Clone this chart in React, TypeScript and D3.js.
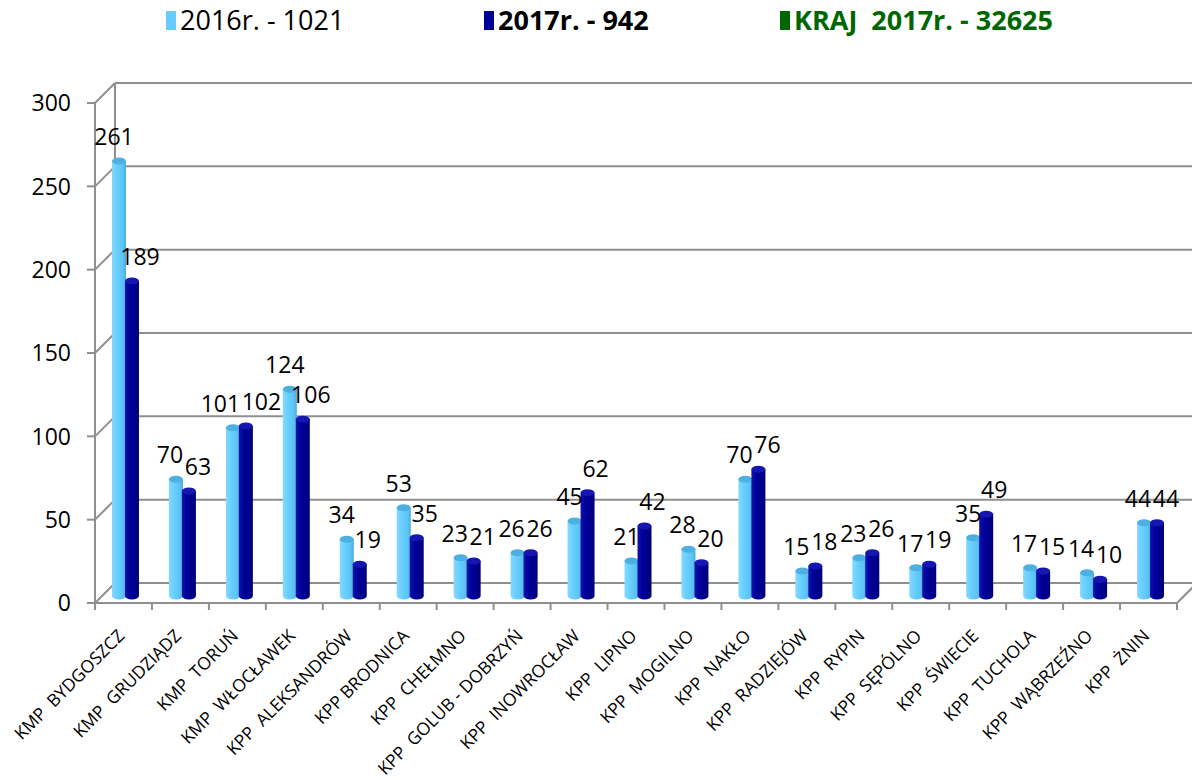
import React from "react";
import * as d3 from "d3";

const categories = [
  "KMP  BYDGOSZCZ", "KMP  GRUDZIĄDZ", "KMP  TORUŃ", "KMP  WŁOCŁAWEK", "KPP  ALEKSANDRÓW",
  "KPP BRODNICA", "KPP  CHEŁMNO", "KPP  GOLUB - DOBRZYŃ", "KPP  INOWROCŁAW", "KPP  LIPNO",
  "KPP  MOGILNO", "KPP  NAKŁO", "KPP  RADZIEJÓW", "KPP  RYPIN", "KPP  SĘPÓLNO",
  "KPP  ŚWIECIE", "KPP  TUCHOLA", "KPP  WĄBRZEŹNO", "KPP  ŻNIN",
];
const values2016 = [261, 70, 101, 124, 34, 53, 23, 26, 45, 21, 28, 70, 15, 23, 17, 35, 17, 14, 44];
const values2017 = [189, 63, 102, 106, 19, 35, 21, 26, 62, 42, 20, 76, 18, 26, 19, 49, 15, 10, 44];
const yTicks = [0, 50, 100, 150, 200, 250, 300];
const legendItems = [
  { label: "2016r. - 1021", color: "#66CCFF", text: "#000000", bold: false },
  { label: "2017r. - 942", color: "#000099", text: "#000000", bold: true },
  { label: "KRAJ  2017r. - 32625", color: "#006600", text: "#006600", bold: true },
];

const W = 1192, H = 780;
const FRONT_LEFT = 95, FRONT_RIGHT = 1177;
const FLOOR_Y = 603, TOP_Y = 103;
const DEPTH = 20;
const BAR_DEPTH = 7;
const FONT = "'Open Sans', sans-serif";

export default function App() {
  const x = d3.scaleBand<number>().domain(d3.range(categories.length)).range([FRONT_LEFT, FRONT_RIGHT]);
  const y = d3.scaleLinear().domain([0, 300]).range([FLOOR_Y, TOP_Y]);
  const grid = "#8f8f8f";
  const barW = 14;
  const rx = barW / 2, ry = 3.5;

  const cyl = (cx: number, v: number) => {
    const base = y(0) - BAR_DEPTH;
    const top = y(v) - BAR_DEPTH;
    const x0 = cx - rx, x1 = cx + rx;
    return {
      body: `M${x0},${top} L${x0},${base} A${rx},${ry} 0 0 0 ${x1},${base} L${x1},${top} Z`,
      top,
    };
  };

  const bars: any[] = [];
  const labels: any[] = [];
  categories.forEach((_, i) => {
    const pc = (x(i) as number) + x.bandwidth() / 2 + 2;
    const lc = pc - 6.5, dc = pc + 6.5;
    const a = cyl(lc, values2016[i]);
    const b = cyl(dc, values2017[i]);
    bars.push({ i, lc, dc, a, b });
    let l1 = { x: lc - 5, y: a.top - 16, t: String(values2016[i]) };
    let l2 = { x: dc + 8, y: b.top - 16, t: String(values2017[i]) };
    const w1 = l1.t.length * 13, w2 = l2.t.length * 13;
    if (Math.abs(l1.y - l2.y) < 17) {
      const need = (w1 + w2) / 2 + 2;
      const gap = l2.x - l1.x;
      if (gap < need) {
        const push = (need - gap) / 2;
        l1.x -= push;
        l2.x += push;
      }
    }
    labels.push(l1, l2);
  });

  return (
    <svg width={W} height={H} style={{ position: "absolute", left: 0, top: 0, background: "#fff" }}>
      <defs>
        <linearGradient id="gLight" x1="0" x2="1" y1="0" y2="0">
          <stop offset="0" stopColor="#86d8ff" />
          <stop offset="0.35" stopColor="#6ad0ff" />
          <stop offset="0.8" stopColor="#5cc2f4" />
          <stop offset="1" stopColor="#45a8dc" />
        </linearGradient>
        <linearGradient id="gDark" x1="0" x2="1" y1="0" y2="0">
          <stop offset="0" stopColor="#1414a8" />
          <stop offset="0.35" stopColor="#00009c" />
          <stop offset="1" stopColor="#00007a" />
        </linearGradient>
      </defs>
      <g stroke={grid} strokeWidth={2} fill="none">
        {yTicks.map((t) => (
          <g key={t}>
            <line x1={FRONT_LEFT + DEPTH} x2={W} y1={y(t) - DEPTH} y2={y(t) - DEPTH} />
            <line x1={FRONT_LEFT} x2={FRONT_LEFT + DEPTH} y1={y(t)} y2={y(t) - DEPTH} />
            <line x1={FRONT_LEFT - 8} x2={FRONT_LEFT} y1={y(t)} y2={y(t)} />
          </g>
        ))}
        <line x1={FRONT_LEFT + DEPTH} x2={FRONT_LEFT + DEPTH} y1={y(300) - DEPTH} y2={y(0) - DEPTH} />
        <line x1={FRONT_LEFT} x2={FRONT_LEFT} y1={y(300)} y2={y(0)} />
        <line x1={FRONT_LEFT} x2={FRONT_RIGHT} y1={y(0)} y2={y(0)} />
        <line x1={FRONT_RIGHT} x2={FRONT_RIGHT + DEPTH} y1={y(0)} y2={y(0) - DEPTH} />
        {d3.range(categories.length + 1).map((i) => {
          const xx = i < categories.length ? (x(i) as number) : FRONT_RIGHT;
          return <line key={i} x1={xx} x2={xx} y1={y(0)} y2={y(0) + 7} />;
        })}
      </g>
      {bars.map(({ i, lc, dc, a, b }) => (
        <g key={i}>
          <path d={a.body} fill="url(#gLight)" />
          <ellipse cx={lc} cy={a.top} rx={rx} ry={ry} fill="#4eb0e2" />
          <path d={b.body} fill="url(#gDark)" />
          <ellipse cx={dc} cy={b.top} rx={rx} ry={ry} fill="#1616b0" />
        </g>
      ))}
      {labels.map((l, k) => (
        <text key={k} x={l.x} y={l.y} textAnchor="middle" fontFamily={FONT} fontSize={23} fill="#000">
          {l.t}
        </text>
      ))}
      {yTicks.map((t) => (
        <text key={t} x={71} y={y(t)} dy="0.36em" textAnchor="end" fontFamily={FONT} fontSize={23} fill="#000">
          {t}
        </text>
      ))}
      {categories.map((c, i) => {
        const cx = (x(i) as number) + x.bandwidth() / 2 + 2;
        const cy = 637;
        return (
          <text
            key={i}
            transform={`translate(${cx},${cy}) rotate(-45)`}
            textAnchor="end"
            fontFamily={FONT}
            fontSize={17.5}
            fill="#000"
            style={{ whiteSpace: "pre" }}
          >
            {c}
          </text>
        );
      })}
      {legendItems.map((it, k) => {
        const lx = [166, 484, 780][k];
        return (
          <g key={k}>
            <rect x={lx} y={11} width={10} height={19} fill={it.color} />
            <text x={lx + 14} y={30} fontFamily={FONT} fontSize={27} fontWeight={it.bold ? 700 : 400} fill={it.text} style={{ whiteSpace: "pre" }}>
              {it.label}
            </text>
          </g>
        );
      })}
    </svg>
  );
}
